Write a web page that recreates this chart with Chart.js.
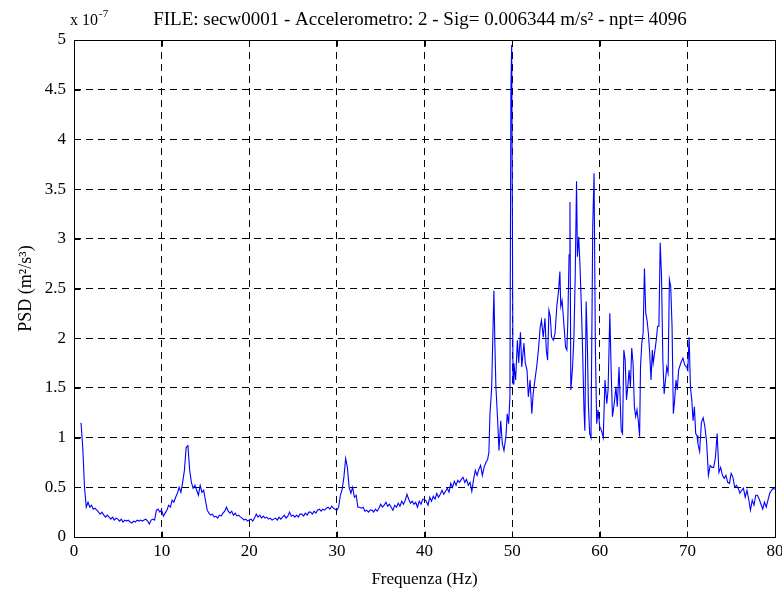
<!DOCTYPE html>
<html>
<head>
<meta charset="utf-8">
<script src="https://cdn.jsdelivr.net/npm/chart.js@4.4.0/dist/chart.umd.min.js"></script>
<style>
  html, body { margin: 0; padding: 0; background: #fff; }
  #wrap { width: 782px; height: 590px; }
</style>
</head>
<body>
<div id="wrap"><canvas id="psdChart" width="782" height="590"></canvas></div>
<script>
// titoli e testi
const chartTitle = 'FILE: secw0001 - Accelerometro: 2 - Sig= 0.006344 m/s² - npt= 4096';
const xTitle = 'Frequenza (Hz)';
const yTitle = 'PSD (m²/s³)';
const yExponent = '-7';

// assi
const xTicks = [0, 10, 20, 30, 40, 50, 60, 70, 80];
const yTicks = [0, 0.5, 1, 1.5, 2, 2.5, 3, 3.5, 4, 4.5, 5];

// PSD (unita' x 10^-7)
// tratto basso: da 0.8 Hz a 47.2 Hz, passo 0.2 Hz, una riga = 1 Hz
const lowStart = 0.8;
const lowStep = 0.2;
const lowPsd = [
  1.15,
  0.90, 0.50, 0.30, 0.35, 0.30,   // 1
  0.32, 0.28, 0.29, 0.27, 0.25,   // 2
  0.23, 0.25, 0.22, 0.20, 0.22,   // 3
  0.20, 0.18, 0.20, 0.17, 0.19,   // 4
  0.18, 0.16, 0.18, 0.15, 0.17,   // 5
  0.16, 0.17, 0.15, 0.14, 0.16,   // 6
  0.15, 0.17, 0.16, 0.17, 0.16,   // 7
  0.17, 0.18, 0.16, 0.13, 0.17,   // 8
  0.18, 0.17, 0.27, 0.28, 0.25,   // 9
  0.27, 0.21, 0.24, 0.27, 0.32,   // 10
  0.30, 0.37, 0.35, 0.40, 0.44,   // 11
  0.50, 0.45, 0.55, 0.67, 0.90,   // 12
  0.92, 0.67, 0.55, 0.49, 0.52,   // 13
  0.47, 0.42, 0.52, 0.45, 0.47,   // 14
  0.37, 0.27, 0.24, 0.22, 0.23,   // 15
  0.20, 0.21, 0.19, 0.22, 0.21,   // 16
  0.24, 0.26, 0.30, 0.26, 0.24,   // 17
  0.26, 0.22, 0.24, 0.21, 0.22,   // 18
  0.20, 0.19, 0.17, 0.18, 0.16,   // 19
  0.17, 0.18, 0.16, 0.19, 0.23,   // 20
  0.20, 0.22, 0.19, 0.21, 0.19,   // 21
  0.20, 0.18, 0.19, 0.17, 0.18,   // 22
  0.19, 0.17, 0.20, 0.18, 0.20,   // 23
  0.22, 0.19, 0.21, 0.25, 0.21,   // 24
  0.22, 0.20, 0.22, 0.20, 0.23,   // 25
  0.23, 0.21, 0.24, 0.22, 0.25,   // 26
  0.25, 0.23, 0.26, 0.24, 0.27,   // 27
  0.28, 0.26, 0.28, 0.27, 0.29,   // 28
  0.30, 0.28, 0.31, 0.29, 0.28,   // 29
  0.27, 0.30, 0.42, 0.48, 0.60,   // 30
  0.79, 0.70, 0.50, 0.44, 0.50,   // 31
  0.40, 0.42, 0.30, 0.30, 0.29,   // 32
  0.30, 0.26, 0.27, 0.25, 0.27,   // 33
  0.27, 0.25, 0.28, 0.26, 0.29,   // 34
  0.33, 0.30, 0.32, 0.35, 0.31,   // 35
  0.33, 0.30, 0.27, 0.32, 0.30,   // 36
  0.34, 0.31, 0.36, 0.33, 0.37,   // 37
  0.43, 0.38, 0.34, 0.36, 0.33,   // 38
  0.35, 0.30, 0.36, 0.33, 0.38,   // 39
  0.38, 0.36, 0.32, 0.40, 0.36,   // 40
  0.41, 0.38, 0.44, 0.40, 0.43,   // 41
  0.47, 0.43, 0.46, 0.49, 0.45,   // 42
  0.54, 0.50, 0.56, 0.52, 0.57,   // 43
  0.55, 0.58, 0.60, 0.55, 0.58,   // 44
  0.52, 0.55, 0.46, 0.58, 0.67,   // 45
  0.62, 0.68, 0.72, 0.62, 0.70,   // 46
  0.75, 0.78                      // 47
];

// tratto denso 47.3 - 71.2 Hz: letture puntuali
const denseFreq = [
  47.35, 47.47, 47.66, 47.92, 48.04, 48.15, 48.35, 48.5, 48.7, 48.88,
  49.07, 49.3, 49.44, 49.6, 49.75, 49.86, 49.95, 50.03, 50.1, 50.2,
  50.4, 50.6, 50.75, 50.95, 51.1, 51.35, 51.5, 51.7, 51.85, 52.05,
  52.25, 52.4, 52.6, 52.8, 53.0, 53.2, 53.35, 53.55, 53.75, 53.9,
  54.05, 54.2, 54.35, 54.5, 54.7, 54.9, 55.1, 55.3, 55.45, 55.55,
  55.7, 55.9, 56.1, 56.25, 56.35, 56.5, 56.6, 56.7, 56.9, 57.05,
  57.2, 57.35, 57.45, 57.6, 57.75, 57.9, 58.05, 58.2, 58.3, 58.45,
  58.6, 58.7, 58.85, 59.0, 59.2, 59.35, 59.5, 59.65, 59.8, 60.0,
  60.2, 60.4, 60.6, 60.8, 60.95, 61.15, 61.3, 61.45, 61.65, 61.85,
  62.0, 62.2, 62.45, 62.6, 62.75, 62.9, 63.05, 63.2, 63.35, 63.5,
  63.65, 63.8, 63.95, 64.1, 64.25, 64.4, 64.55, 64.65, 64.8, 64.95,
  65.1, 65.25, 65.4, 65.55, 65.7, 65.85, 66.0, 66.1, 66.3, 66.45,
  66.6, 66.75, 66.9, 67.05, 67.2, 67.35, 67.5, 67.65, 67.8, 67.95,
  68.1, 68.25, 68.4, 68.55, 68.7, 68.85, 69.0, 69.25, 69.5, 69.7,
  69.9, 70.05, 70.2, 70.35, 70.5, 70.65, 70.8, 70.95, 71.1, 71.2
];
const densePsd = [
  0.85, 1.24, 1.49, 2.48, 1.91, 1.51, 1.17, 0.87, 1.17, 0.94,
  0.87, 1.02, 1.24, 1.14, 1.41, 4.50, 4.95, 3.19, 1.54, 1.75,
  1.58, 1.98, 1.75, 2.06, 1.71, 1.95, 1.75, 1.68, 1.41, 1.58,
  1.24, 1.44, 1.58, 1.71, 1.88, 2.11, 2.18, 2.01, 2.20, 1.88,
  1.78, 2.28, 2.22, 2.01, 1.98, 2.05, 2.32, 2.48, 2.67, 2.32,
  2.38, 2.15, 1.91, 1.88, 2.15, 2.84, 3.37, 1.48, 1.71, 2.01,
  2.62, 3.58, 2.82, 3.02, 2.72, 2.32, 1.85, 1.28, 1.07, 2.37,
  1.88, 1.34, 1.04, 1.00, 3.12, 3.66, 1.91, 1.14, 1.28, 1.11,
  1.07, 1.00, 1.58, 1.34, 1.48, 2.25, 1.68, 1.21, 1.34, 1.51,
  1.31, 1.71, 1.07, 1.04, 1.88, 1.78, 1.38, 1.51, 1.68, 1.51,
  1.90, 1.75, 1.31, 1.21, 1.28, 1.17, 1.01, 1.71, 1.95, 2.05,
  2.70, 2.25, 2.18, 2.05, 1.85, 1.58, 1.88, 1.75, 1.88, 1.98,
  2.12, 2.12, 2.96, 2.62, 1.78, 1.44, 1.58, 1.71, 1.65, 2.59,
  2.52, 2.12, 1.24, 1.38, 1.58, 1.48, 1.68, 1.75, 1.80, 1.73,
  1.71, 1.68, 2.01, 1.51, 1.38, 1.17, 1.31, 1.04, 1.02, 0.94
];

// tratto alto: da 71.4 Hz a 80 Hz, passo 0.2 Hz
const highStart = 71.4;
const highStep = 0.2;
const highPsd = [
                    0.86, 1.15, 1.20,   // 71
  1.11, 0.95, 0.62, 0.72, 0.70,   // 72
  0.70, 0.80, 1.04, 0.65, 0.70,   // 73
  0.62, 0.59, 0.62, 0.55, 0.54,   // 74
  0.64, 0.60, 0.50, 0.52, 0.49,   // 75
  0.44, 0.47, 0.49, 0.40, 0.47,   // 76
  0.38, 0.27, 0.37, 0.32, 0.42,   // 77
  0.42, 0.38, 0.33, 0.28, 0.35,   // 78
  0.30, 0.37, 0.44, 0.47, 0.49,   // 79
  0.48
];

const points = [
  ...lowPsd.map((v, i) => ({ x: +(lowStart + i * lowStep).toFixed(2), y: v })),
  ...densePsd.map((v, i) => ({ x: denseFreq[i], y: v })),
  ...highPsd.map((v, i) => ({ x: +(highStart + i * highStep).toFixed(2), y: v }))
];

const FONT = "'Liberation Serif', 'Times New Roman', serif";

// cornice stile matlab: box, tacche interne, titoli
const matlabFrame = {
  id: 'matlabFrame',
  afterDraw(chart) {
    const ctx = chart.ctx;
    const a = chart.chartArea;
    const xs = chart.scales.x, ys = chart.scales.y;
    const L = Math.round(a.left) + 0.5, R = Math.round(a.right) + 0.5;
    const T = Math.round(a.top) + 0.5, B = Math.round(a.bottom) + 0.5;
    ctx.save();
    ctx.strokeStyle = '#000';
    ctx.lineWidth = 1;
    ctx.setLineDash([]);
    ctx.beginPath();
    ctx.rect(L, T, R - L, B - T);
    // tacche verso l'interno
    xTicks.forEach(v => {
      const px = Math.round(xs.getPixelForValue(v)) + 0.5;
      ctx.moveTo(px, B); ctx.lineTo(px, B - 6);
      ctx.moveTo(px, T); ctx.lineTo(px, T + 6);
    });
    yTicks.forEach(v => {
      const py = Math.round(ys.getPixelForValue(v)) + 0.5;
      ctx.moveTo(L, py); ctx.lineTo(L + 6, py);
      ctx.moveTo(R, py); ctx.lineTo(R - 6, py);
    });
    ctx.stroke();

    ctx.fillStyle = '#000';
    ctx.textBaseline = 'alphabetic';
    // titolo
    ctx.font = '19px ' + FONT;
    ctx.textAlign = 'center';
    ctx.fillText(chartTitle, 420, 25);
    // esponente asse y
    ctx.textAlign = 'left';
    ctx.font = '16px ' + FONT;
    ctx.fillText('x 10', a.left - 4, 25);
    const w = ctx.measureText('x 10').width;
    ctx.font = '11px ' + FONT;
    ctx.fillText(yExponent, a.left - 4 + w + 1, 17);
    // titolo asse x
    ctx.font = '17px ' + FONT;
    ctx.textAlign = 'center';
    ctx.fillText(xTitle, (a.left + a.right) / 2, 584);
    // titolo asse y
    ctx.font = '18px ' + FONT;
    ctx.translate(31, (a.top + a.bottom) / 2);
    ctx.rotate(-Math.PI / 2);
    ctx.fillText(yTitle, 0, 0);
    ctx.restore();
  }
};

new Chart(document.getElementById('psdChart'), {
  type: 'line',
  data: {
    datasets: [{
      data: points,
      borderColor: '#0000ff',
      borderWidth: 1.1,
      pointRadius: 0,
      tension: 0,
      fill: false
    }]
  },
  options: {
    responsive: false,
    animation: false,
    devicePixelRatio: 1,
    layout: { padding: { left: 0, right: 7, top: 40, bottom: 0 } },
    plugins: {
      legend: { display: false },
      tooltip: { enabled: false },
      title: { display: false }
    },
    scales: {
      x: {
        type: 'linear',
        min: 0,
        max: 80,
        afterFit(scale) { scale.height = 53; scale.paddingLeft = 0; scale.paddingRight = 0; },
        afterBuildTicks(scale) { scale.ticks = xTicks.map(v => ({ value: v })); },
        ticks: {
          autoSkip: false,
          maxRotation: 0,
          color: '#000',
          padding: 4,
          font: { family: FONT, size: 17 }
        },
        grid: { color: '#000', lineWidth: 1, drawTicks: false },
        border: { display: false, dash: [7, 5] }
      },
      y: {
        min: 0,
        max: 5,
        afterFit(scale) { scale.width = 74; },
        afterBuildTicks(scale) { scale.ticks = yTicks.map(v => ({ value: v })); },
        ticks: {
          color: '#000',
          padding: 8,
          font: { family: FONT, size: 17 },
          callback: v => String(+v.toFixed(1))
        },
        grid: { color: '#000', lineWidth: 1, drawTicks: false },
        border: { display: false, dash: [7, 5] }
      }
    }
  },
  plugins: [matlabFrame]
});
</script>
</body>
</html>
